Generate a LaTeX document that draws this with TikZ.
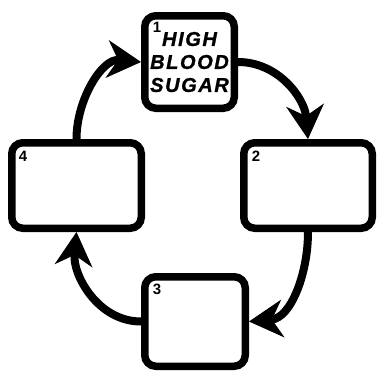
\documentclass[tikz,border=0pt]{standalone}
\usepackage{fontspec}
\newfontfamily\ciclofont{Liberation Sans}
\usetikzlibrary{arrows.meta}

\tikzset{
  caja/.style={draw, line width=7.5pt, rounded corners=11pt, fill=white, inner sep=0pt},
  flecha/.style={line width=8pt, -{Stealth[length=34pt,width=38pt,inset=11pt,line width=1pt]}},
  num/.style={font=\ciclofont\bfseries\fontsize{15}{15}\selectfont, inner sep=0pt}
}

\begin{document}
\begin{tikzpicture}[x=1pt,y=-1pt] %ciclo de la glucosa
        \useasboundingbox (0,0) rectangle (377,372);

        \node[caja, minimum width=89.5pt, minimum height=92.5pt, align=center,
              font=\ciclofont\bfseries\itshape\addfontfeature{LetterSpace=8,FakeBold=1.2}\fontsize{20}{23}\selectfont]
              (b1) at (189.5,62) {HIGH\\BLOOD\\SUGAR};
        \node[caja, minimum width=128.5pt, minimum height=85.5pt] (b2) at (308,185.5) {};
        \node[caja, minimum width=100.5pt, minimum height=89.5pt] (b3) at (195,321.5) {};
        \node[caja, minimum width=129.5pt, minimum height=85.5pt] (b4) at (76.5,185.5) {};

        \node[num] at ([shift={(16pt,-15pt)}]b1.north west) {1};
        \node[num] at ([shift={(16pt,-17pt)}]b2.north west) {2};
        \node[num] at ([shift={(16pt,-16pt)}]b3.north west) {3};
        \node[num] at ([shift={(15pt,-17pt)}]b4.north west) {4};

        \draw[flecha] (b1.east) to[out=0, in=95] (b2.north);
        \draw[flecha] (b2.south) to[out=-90, in=5] (b3.east);
        \draw[flecha] (b3.west) to[out=180, in=-95] (b4.south);
        \draw[flecha] (b4.north) to[out=90, in=175] (b1.west);
    \end{tikzpicture}
\end{document}
